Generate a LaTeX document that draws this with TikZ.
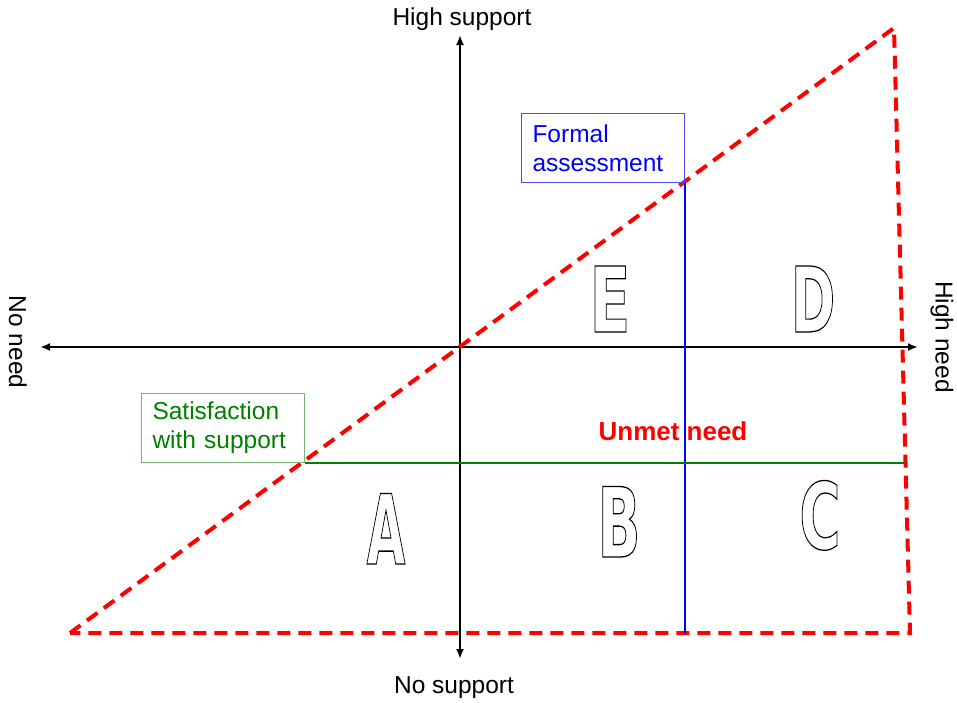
\documentclass[tikz,border=0pt]{standalone}
\usepackage{fontspec}
\setmainfont{Liberation Sans}
\newfontfamily\letterfont{DejaVu Sans Bold}
\usetikzlibrary{arrows.meta}
\definecolor{myred}{RGB}{255,0,0}
\definecolor{myblue}{RGB}{0,0,255}
\definecolor{mygreen}{RGB}{0,128,0}
\newcommand\outlinetext[1]{\special{pdf:literal direct 1 Tr 1.2 w}#1\special{pdf:literal direct 0 Tr}}
\begin{document}
\begin{tikzpicture}[x=1pt,y=-1pt,
  axis/.style={line width=2.6pt,black,{Latex[length=10pt,width=8pt]}-{Latex[length=10pt,width=8pt]}},
  reddash/.style={line width=4pt,myred,dash pattern=on 13pt off 8pt,line join=miter},
  lbl/.style={font=\fontsize{24.5}{29}\selectfont,inner sep=0pt},
  boxlbl/.style={font=\fontsize{24.5}{29}\selectfont,align=left,text width=141pt,inner xsep=11pt,inner ysep=0pt,minimum width=163pt,minimum height=69pt,anchor=south east,line width=1pt},
  letter/.style={font=\fontsize{88}{88}\selectfont\letterfont,inner sep=0pt,anchor=base}
]
\useasboundingbox (0,0) rectangle (957,702);
% coordinates
\coordinate (L) at (40,347);
\coordinate (R) at (918,347);
\coordinate (T) at (460,35);
\coordinate (B) at (460,659);
\coordinate (P1) at (70,633);
\coordinate (P2) at (894,28);
\coordinate (P3) at (910,633);
\coordinate (G2) at (905,463);
\coordinate (F2) at (685,633);
% axes
\draw[axis] (L) -- (R);
\draw[axis] (B) -- (T);
% triangle
\draw[reddash] (P1) -- (P2) -- (P3) -- cycle;
% boxes
\node[boxlbl,draw={myblue!70!white},text=myblue] (fa) at (685,183) {Formal\\assessment};
\node[boxlbl,draw={mygreen!55!white},text=mygreen] (sw) at (305,463) {Satisfaction\\with support};
\draw[line width=2.6pt,myblue] (fa.south east) -- (F2);
\draw[line width=2.6pt,mygreen] (sw.south east) -- (G2);
% labels
\node[lbl] (hs) at (462,19) {High support};
\node[lbl] (ns) at (454,688) {No support};
\node[lbl,rotate=-90] (nn) at (18,342) {No need};
\node[lbl,rotate=-90] (hn) at (942,337) {High need};
\node[font=\fontsize{26}{30}\selectfont\bfseries,text=myred,inner sep=0pt,anchor=base] (un) at (673,440) {Unmet need};
% letters
\node[letter] (le) at (610,332) {\scalebox{0.68}[1.03]{\outlinetext{E}}};
\node[letter] (ld) at (813,332) {\scalebox{0.61}[1.03]{\outlinetext{D}}};
\node[letter] (la) at (386,564) {\scalebox{0.57}[1.1]{\outlinetext{A}}};
\node[letter] (lb) at (619,557) {\scalebox{0.64}[1.1]{\outlinetext{B}}};
\node[letter] (lc) at (820,549) {\scalebox{0.64}[1.05]{\outlinetext{C}}};
\end{tikzpicture}
\end{document}
